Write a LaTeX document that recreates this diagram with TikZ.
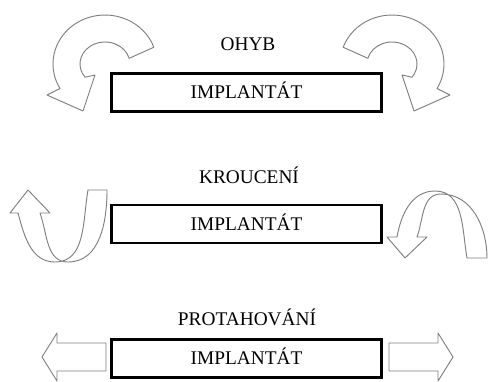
\documentclass[tikz,border=0pt]{standalone}
\usepackage{fontspec}
\setmainfont{Liberation Serif}
\usepackage{tikz}
\usetikzlibrary{positioning}

\tikzset{
    implbox/.style={draw, line width=2.2pt, minimum width=8.1cm, minimum height=1.14cm,
        text height=10.9pt, text depth=0pt, inner sep=0pt},
    titletext/.style={anchor=base, inner sep=0pt},
    shapearrow/.style={draw=black!50, line width=0.8pt, fill=white, line join=round}
}

\begin{document}
\begin{tikzpicture}[x=0.03cm, y=0.03cm, font=\fontsize{16.5}{19}\selectfont]
    \useasboundingbox (0,0) rectangle (488,381);

    %the three implants
    \node[implbox] (impl1) at (246.5,288.5) {IMPLANTÁT};
    \node[implbox] (impl2) at (246.5,157) {IMPLANTÁT};
    \node[implbox] (impl3) at (246.5,22.5) {IMPLANTÁT};

    \node[titletext] (ohyb) at (248,331) {OHYB};
    \node[titletext] (krouceni) at (249,198) {KROUCENÍ};
    \node[titletext] (protahovani) at (247,56) {PROTAHOVÁNÍ};

    %bending: curved arrows, the right one is the mirror image
    \foreach \sx/\dx in {1/0, -1/497}{
        \begin{scope}[shift={(\dx,0)}, xscale=\sx]
            \draw[shapearrow] ([shift={(105,317)}]20:52 and 49)
                arc[start angle=20, end angle=210, x radius=52, y radius=49]
                -- (47,286) -- (83,270) -- (95,306) -- ([shift={(105,317)}]217:25 and 22)
                arc[start angle=217, end angle=15, x radius=25, y radius=22] -- cycle;
        \end{scope}
    }

    %torsion: twisted ribbons
    \draw[shapearrow] (40,168) -- (50,168) -- (28,191) -- (10,168) -- (18,168)
        to[out=-75, in=180] (55,119) to[out=0, in=-100] (88,191) -- (107,191)
        to[out=-90, in=0] (68,119) to[out=180, in=-70] (40,168) -- cycle;
    \draw[shapearrow] (397,144) -- (387,144) -- (405,123) -- (427,144) -- (417,144)
        to[out=70, in=180] (441,187) to[out=0, in=90] (487,123) -- (467,123)
        to[out=100, in=0] (435,190) to[out=180, in=80] (397,144) -- cycle;

    %tension: straight arrows
    \draw[shapearrow] (106,38) -- (57,38) -- (57,48) -- (42,24) -- (57,0)
        -- (57,10) -- (106,10) -- cycle;
    \draw[shapearrow] (389,38) -- (438,38) -- (438,48) -- (453,24) -- (438,0)
        -- (438,10) -- (389,10) -- cycle;
\end{tikzpicture}
\end{document}
